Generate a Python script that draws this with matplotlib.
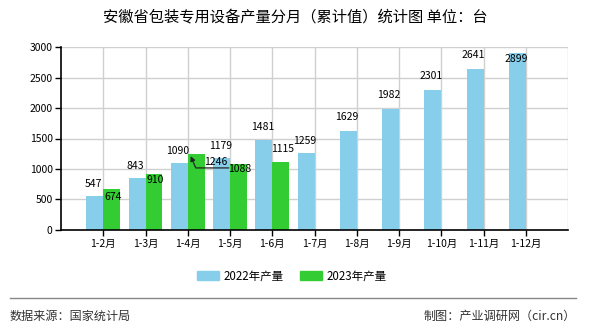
import matplotlib
matplotlib.use("Agg")
import matplotlib.pyplot as plt
from matplotlib.patches import Patch
from matplotlib.lines import Line2D

plt.rcParams["font.family"] = ["Noto Sans CJK SC", "DejaVu Sans"]

months = ["1-2月", "1-3月", "1-4月", "1-5月", "1-6月", "1-7月",
          "1-8月", "1-9月", "1-10月", "1-11月", "1-12月"]
output_2022 = [547, 843, 1090, 1179, 1481, 1259, 1629, 1982, 2301, 2641, 2899]
output_2023 = [674, 910, 1246, 1088, 1115]

# label offsets in points (above bar > 0, inside bar < 0)
off_2022 = [9, 9, 9, 9, 9, 9, 10, 10, 10, 10, -4]
off_2023 = [-6, -4, None, -4, 9]

c22 = "#87CEEB"
c23 = "#33CC33"
grid_c = "#d0d0d0"

fig = plt.figure(figsize=(5.9, 3.3), dpi=100)
ax = fig.add_axes([61 / 590, 1 - 229.7 / 330, 507 / 590, 182.4 / 330])

x = list(range(1, len(months) + 1))
w = 0.4
ax.bar([i - w / 2 for i in x], output_2022, width=w, color=c22, zorder=2)
ax.bar([i + w / 2 for i in x[:len(output_2023)]], output_2023, width=w, color=c23, zorder=2)

ax.set_xlim(0, 12)
ax.set_ylim(0, 3000)
ax.set_yticks(range(0, 3001, 500))
ax.set_xticks(x)
ax.set_xticklabels(months, fontsize=7.5)
ax.tick_params(axis="y", labelsize=7.5, length=4, width=1, pad=2)
ax.tick_params(axis="x", length=4, width=1, pad=3)
ax.grid(True, color=grid_c, linewidth=1, zorder=0)
ax.axvline(12, color=grid_c, linewidth=1, zorder=0)
for s in ["top", "right"]:
    ax.spines[s].set_visible(False)
for s in ["left", "bottom"]:
    ax.spines[s].set_linewidth(1.2)

for i, v in enumerate(output_2022):
    ax.annotate(str(v), (x[i] - w / 2, v), xytext=(-1, off_2022[i]), textcoords="offset points",
                ha="center", va="center", fontsize=7.5, zorder=4)
for i, v in enumerate(output_2023):
    if off_2023[i] is None:
        continue
    ax.annotate(str(v), (x[i] + w / 2, v), xytext=(1, off_2023[i]), textcoords="offset points",
                ha="center", va="center", fontsize=7.5, zorder=4)

# 1246 label pulled out to the right, with a leader line back to its bar
v = output_2023[2]
bar_x = x[2] + w / 2
ax.annotate(str(v), (bar_x, v), xytext=(14, -6), textcoords="offset points",
            ha="center", va="center", fontsize=7.5, zorder=4)
ax.annotate("", xy=(bar_x - 0.13, v - 35), xycoords="data",
            xytext=(bar_x + 0.77, v - 230), textcoords="data", zorder=4,
            arrowprops=dict(arrowstyle="-|>", color="#222222", lw=0.9, mutation_scale=7,
                            shrinkA=0, shrinkB=0,
                            connectionstyle="angle,angleA=180,angleB=-67,rad=0"))

fig.text(0.5, 1 - 17 / 330, "安徽省包装专用设备产量分月（累计值）统计图 单位：台",
         ha="center", va="center", fontsize=11)

handles = [Patch(color=c22, label="2022年产量"), Patch(color=c23, label="2023年产量")]
fig.legend(handles=handles, loc="center", bbox_to_anchor=(0.495, 1 - 276 / 330), ncol=2,
           frameon=False, fontsize=8.3, handlelength=1.9, handleheight=0.85,
           columnspacing=1.4, handletextpad=0.4)

fig.add_artist(Line2D([10 / 590, 576 / 590], [1 - 298 / 330] * 2, color="#888888", linewidth=1))
fig.text(10 / 590, 1 - 316 / 330, "数据来源：国家统计局", ha="left", va="center", fontsize=8.7, color="#333333")
fig.text(576 / 590, 1 - 316 / 330, "制图：产业调研网（cir.cn）", ha="right", va="center", fontsize=8.7, color="#333333")

fig.savefig("out.png", dpi=100)
